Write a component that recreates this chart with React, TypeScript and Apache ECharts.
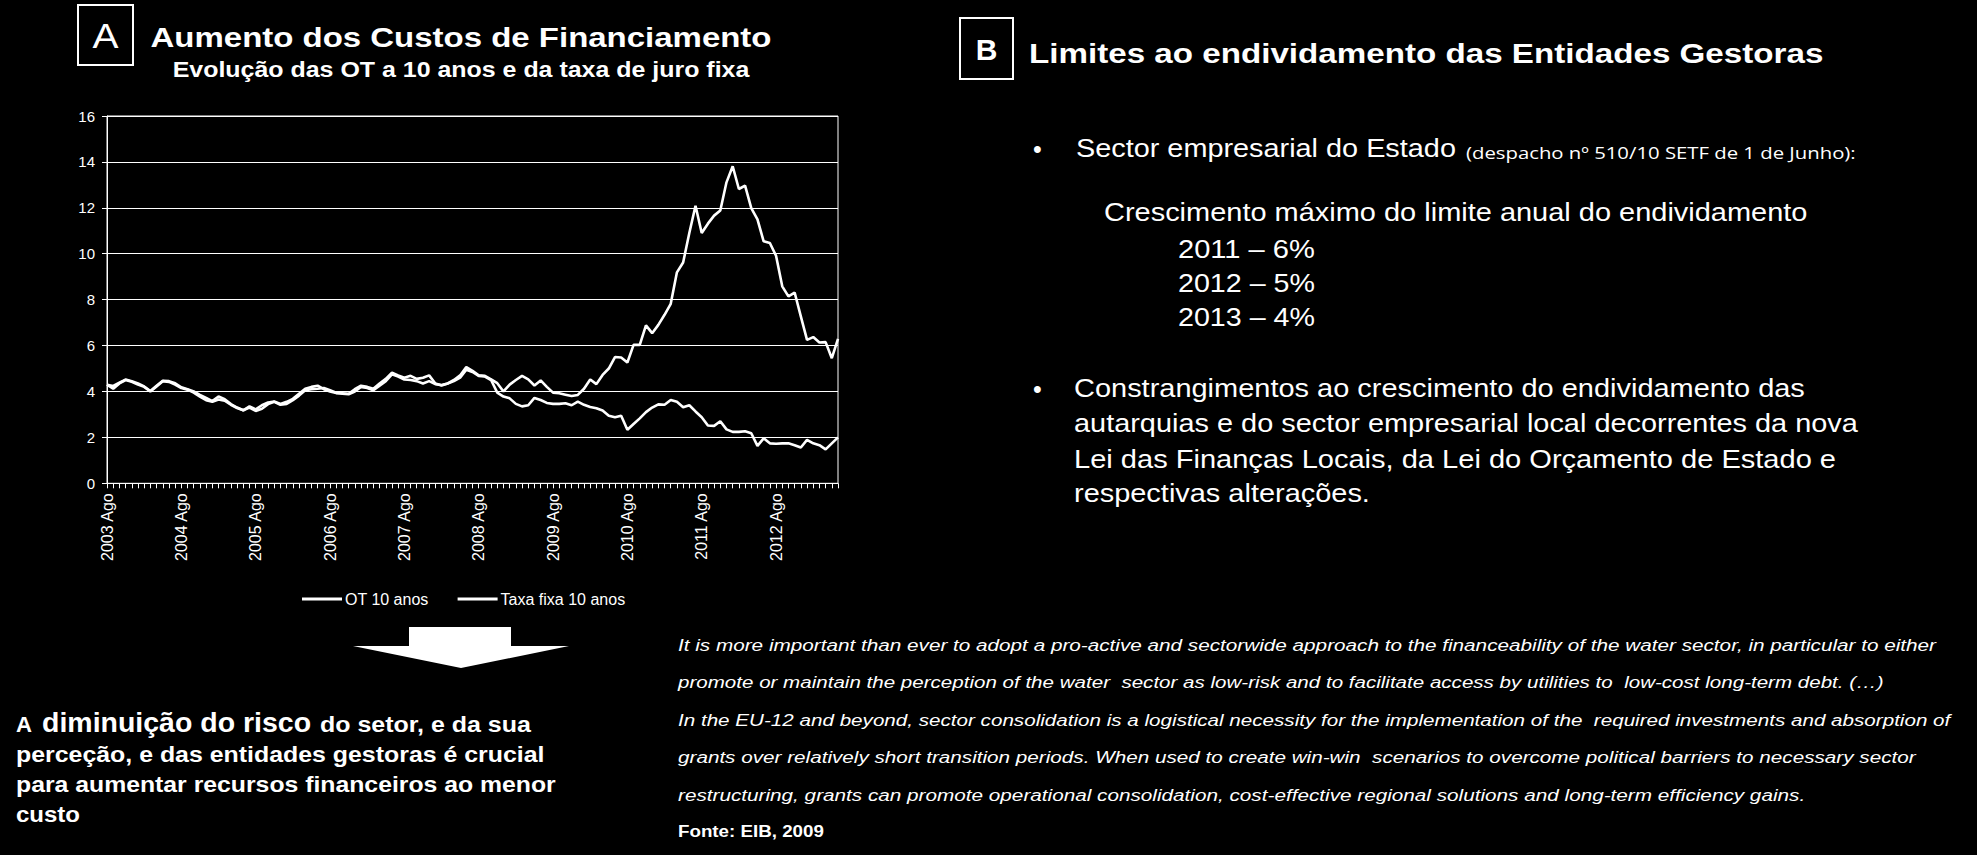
import React, { useEffect, useRef } from "react";
import * as echarts from "echarts";

// ---------- data ----------
const MONTHS = ["Jan", "Fev", "Mar", "Abr", "Mai", "Jun", "Jul", "Ago", "Set", "Out", "Nov", "Dez"];
const START_YEAR = 2003;
const START_MONTH = 7; // Ago
const N_MONTHS = 119;
const categories: string[] = [];
for (let i = 0; i < N_MONTHS; i++) {
  const m = (START_MONTH + i) % 12;
  const y = START_YEAR + Math.floor((START_MONTH + i) / 12);
  categories.push(`${y} ${MONTHS[m]}`);
}

const seriesNames = ["OT 10 anos", "Taxa fixa 10 anos"];

const otValues = [
  4.29, 4.24, 4.38, 4.52, 4.45, 4.35, 4.22, 4.02, 4.25, 4.47,
  4.45, 4.36, 4.18, 4.10, 4.00, 3.85, 3.72, 3.58, 3.78, 3.66,
  3.45, 3.30, 3.18, 3.35, 3.22, 3.40, 3.52, 3.56, 3.46, 3.55,
  3.68, 3.90, 4.12, 4.20, 4.25, 4.10, 4.00, 3.93, 3.92, 3.90,
  4.10, 4.25, 4.20, 4.12, 4.35, 4.55, 4.82, 4.70, 4.60, 4.68,
  4.55, 4.60, 4.70, 4.35, 4.26, 4.35, 4.50, 4.70, 5.06, 4.90,
  4.70, 4.68, 4.53, 4.36, 4.00, 4.30, 4.50, 4.68, 4.53, 4.26,
  4.48, 4.20, 3.95, 3.92, 3.86, 3.80, 3.85, 4.12, 4.52, 4.32,
  4.72, 5.00, 5.50, 5.48, 5.26, 6.03, 6.03, 6.88, 6.54, 6.90,
  7.34, 7.82, 9.19, 9.62, 10.90, 12.09, 10.90, 11.31, 11.66, 11.88,
  13.11, 13.81, 12.82, 12.97, 11.99, 11.50, 10.54, 10.47, 9.91, 8.58,
  8.14, 8.31, 7.27, 6.25, 6.37, 6.13, 6.15, 5.45, 6.29,
];

const taxaValues = [
  4.30, 4.12, 4.35, 4.50, 4.42, 4.30, 4.20, 4.00, 4.22, 4.45,
  4.42, 4.30, 4.15, 4.08, 3.95, 3.78, 3.62, 3.55, 3.65, 3.60,
  3.42, 3.28, 3.18, 3.30, 3.15, 3.25, 3.45, 3.55, 3.42, 3.46,
  3.62, 3.82, 4.05, 4.10, 4.12, 4.15, 4.05, 3.95, 3.90, 3.88,
  4.00, 4.20, 4.15, 4.05, 4.25, 4.45, 4.75, 4.65, 4.52, 4.50,
  4.45, 4.35, 4.45, 4.32, 4.28, 4.35, 4.45, 4.60, 4.95, 4.85,
  4.68, 4.65, 4.50, 3.95, 3.78, 3.70, 3.46, 3.35, 3.40, 3.72,
  3.63, 3.50, 3.46, 3.46, 3.49, 3.40, 3.56, 3.42, 3.32, 3.27,
  3.17, 2.94, 2.88, 2.94, 2.33, 2.58, 2.83, 3.10, 3.30, 3.44,
  3.42, 3.63, 3.55, 3.31, 3.40, 3.13, 2.88, 2.52, 2.50, 2.70,
  2.35, 2.24, 2.24, 2.27, 2.18, 1.63, 1.96, 1.74, 1.72, 1.74,
  1.74, 1.66, 1.56, 1.89, 1.74, 1.66, 1.48, 1.74, 2.00,
];

const Y_MIN = 0;
const Y_MAX = 16;
const Y_INTERVAL = 2;

// ---------- texts ----------
const titleA = "Aumento dos Custos de Financiamento";
const subtitleA = "Evolução das OT a 10 anos e da taxa de juro fixa";
const titleB = "Limites ao endividamento das Entidades Gestoras";
const bullet1Main = "Sector empresarial do Estado";
const bullet1Note = "(despacho nº 510/10 SETF de 1 de Junho):";
const limitHeading = "Crescimento máximo do limite anual do endividamento";
const limitLines = ["2011 – 6%", "2012 – 5%", "2013 – 4%"];
const bullet2Lines = [
  "Constrangimentos ao crescimento do endividamento das",
  "autarquias e do sector empresarial local decorrentes da nova",
  "Lei das Finanças Locais, da Lei do Orçamento de Estado e",
  "respectivas alterações.",
];
const conclusionLines = [
  "perceção, e das entidades gestoras é crucial",
  "para aumentar recursos financeiros ao menor",
  "custo",
];
const quoteLines = [
  "It is more important than ever to adopt a pro-active and sectorwide approach to the financeability of the water sector, in particular to either",
  "promote or maintain the perception of the water  sector as low-risk and to facilitate access by utilities to  low-cost long-term debt. (…)",
  "In the EU-12 and beyond, sector consolidation is a logistical necessity for the implementation of the  required investments and absorption of",
  "grants over relatively short transition periods. When used to create win-win  scenarios to overcome political barriers to necessary sector",
  "restructuring, grants can promote operational consolidation, cost-effective regional solutions and long-term efficiency gains.",
];
const sourceText = "Fonte: EIB, 2009";

const FONT = '"Liberation Sans", Arial, Helvetica, sans-serif';

export default function App() {
  const ref = useRef<HTMLDivElement>(null);

  useEffect(() => {
    if (!ref.current) return;
    const chart = echarts.init(ref.current, undefined, { renderer: "svg" });

    const canvas = document.createElement("canvas");
    const ctx = canvas.getContext("2d")!;
    const measure = (text: string, size: number, weight: string, style: string, family: string) => {
      ctx.font = `${style} ${weight} ${size}px ${family}`;
      return ctx.measureText(text).width;
    };

    const T = (
      text: string,
      x: number,
      y: number,
      size: number,
      o: { bold?: boolean; italic?: boolean; align?: string; width?: number; family?: string } = {}
    ) => {
      const weight = o.bold ? "bold" : "normal";
      const style = o.italic ? "italic" : "normal";
      const family = o.family || FONT;
      let sx = 1;
      if (o.width) {
        const w = measure(text, size, weight, style, family);
        if (w > 0) sx = o.width / w;
      }
      return {
        type: "text",
        x,
        y,
        scaleX: sx,
        silent: true,
        style: {
          text,
          fill: "#fff",
          fontSize: size,
          fontFamily: family,
          fontWeight: weight,
          fontStyle: style,
          align: o.align || "left",
          verticalAlign: "middle",
        },
      };
    };

    const graphics: any[] = [
      // Panel A header
      { type: "rect", silent: true, shape: { x: 78, y: 5, width: 55, height: 60 }, style: { fill: "none", stroke: "#fff", lineWidth: 2 } },
      T("A", 105.5, 36, 36, { align: "center", width: 26 }),
      T(titleA, 461, 36.5, 28, { bold: true, align: "center", width: 621 }),
      T(subtitleA, 461, 70, 22, { bold: true, align: "center", width: 577 }),
      // Panel B header
      { type: "rect", silent: true, shape: { x: 960, y: 18, width: 53, height: 61 }, style: { fill: "none", stroke: "#fff", lineWidth: 2 } },
      T("B", 986.5, 49, 30, { bold: true, align: "center" }),
      T(titleB, 1029, 53.5, 27, { bold: true, width: 795 }),
      // bullet 1
      T("•", 1033, 149, 25),
      T(bullet1Main, 1076, 149, 25, { width: 380 }),
      T(bullet1Note, 1466, 152.5, 17, { width: 390, family: '"Open Sans", "Noto Sans", sans-serif' }),
      T(limitHeading, 1104, 213, 25, { width: 704 }),
      ...limitLines.map((t, i) => T(t, 1178, 249 + i * 34.5, 25, { width: 137 })),
      // bullet 2
      T("•", 1033, 389, 25),
      ...bullet2Lines.map((t, i) =>
        T(t, 1074, 389 + i * 35, 25, { width: [731, 784, 762, 296][i] })
      ),
      // arrow
      {
        type: "polygon",
        silent: true,
        shape: { points: [[409, 627], [511, 627], [511, 646], [569, 646], [461, 668], [353, 646], [409, 646]] },
        style: { fill: "#fff" },
      },
      // conclusion
      T("A", 16, 724.3, 22, { bold: true, width: 16 }),
      T("diminuição do risco", 42, 722.5, 27, { bold: true, width: 269 }),
      T("do setor, e da sua", 320, 724.3, 22, { bold: true, width: 211 }),
      ...conclusionLines.map((t, i) => T(t, 16, 755 + i * 29.7, 22, { bold: true, width: [529, 540, 64][i] })),
      // quote
      ...quoteLines.map((t, i) =>
        T(t, 678, 645 + i * 37.5, 17, { italic: true, width: [1259, 1206, 1273, 1238, 1129][i] })
      ),
      T(sourceText, 678, 831, 17, { bold: true, width: 146 }),
    ];

    chart.setOption({
      animation: false,
      backgroundColor: "#000",
      textStyle: { fontFamily: FONT, color: "#fff" },
      grid: {
        left: 107,
        right: 1977 - 838,
        top: 116,
        bottom: 855 - 483.3,
        show: true,
        borderColor: "#fff",
        borderWidth: 1,
        backgroundColor: "transparent",
        containLabel: false,
      },
      legend: {
        left: 297,
        top: 586,
        icon: "rect",
        itemWidth: 40,
        itemHeight: 3,
        itemGap: 29,
        data: seriesNames,
        textStyle: { color: "#fff", fontSize: 16, fontFamily: FONT, padding: [0, 0, 0, -2] },
      },
      xAxis: {
        type: "category",
        data: categories,
        boundaryGap: false,
        axisLine: { show: true, lineStyle: { color: "#fff", width: 1 } },
        axisTick: { show: true, interval: 0, length: 5, lineStyle: { color: "#fff" } },
        axisLabel: {
          interval: 11,
          rotate: 90,
          color: "#fff",
          fontSize: 16,
          fontFamily: FONT,
          margin: 10,
        },
        splitLine: { show: false },
      },
      yAxis: {
        type: "value",
        min: Y_MIN,
        max: Y_MAX,
        interval: Y_INTERVAL,
        axisLine: { show: true, lineStyle: { color: "#fff", width: 1 } },
        axisTick: { show: true, length: 5, lineStyle: { color: "#fff" } },
        axisLabel: { color: "#fff", fontSize: 15, fontFamily: FONT, margin: 12 },
        splitLine: { show: true, lineStyle: { color: "#fff", width: 1.2 } },
      },
      series: [
        {
          name: seriesNames[0],
          type: "line",
          data: otValues,
          showSymbol: false,
          symbol: "none",
          lineStyle: { color: "#fff", width: 2.6 },
          itemStyle: { color: "#fff" },
        },
        {
          name: seriesNames[1],
          type: "line",
          data: taxaValues,
          showSymbol: false,
          symbol: "none",
          lineStyle: { color: "#fff", width: 2.6 },
          itemStyle: { color: "#fff" },
        },
      ],
      graphic: graphics,
    });

    return () => chart.dispose();
  }, []);

  return (
    <div
      ref={ref}
      style={{ position: "absolute", left: 0, top: 0, width: 1977, height: 855, background: "#000" }}
    />
  );
}
